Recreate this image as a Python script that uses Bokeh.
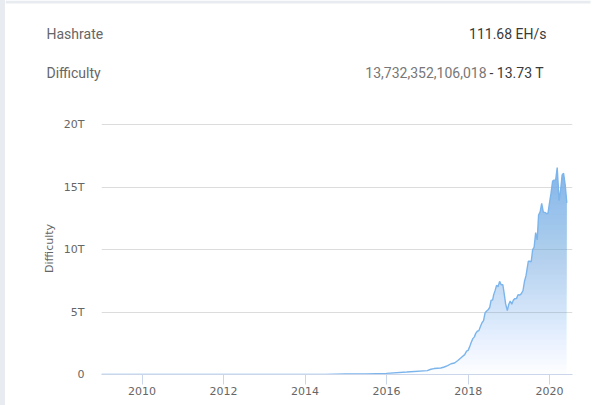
from datetime import datetime

import numpy as np
import pandas as pd
from bokeh.core.properties import value
from bokeh.embed import file_html
from bokeh.layouts import column, row
from bokeh.models import DatetimeTickFormatter, FixedTicker, Range1d, Spacer
from bokeh.plotting import figure
from bokeh.resources import INLINE

# Bitcoin network difficulty (in T = 10^12) at each retarget
dates = [
    "2009-01-03", "2010-12-31", "2011-06-30", "2012-06-30", "2012-12-31",
    "2013-06-30", "2013-12-31", "2014-06-30", "2014-12-31", "2015-06-30",
    "2015-12-31", "2016-06-30", "2016-12-31",
    "2017-02-01", "2017-03-01", "2017-04-01", "2017-05-01", "2017-06-01",
    "2017-07-01", "2017-08-01", "2017-09-01", "2017-10-01", "2017-11-01",
    "2017-12-01", "2017-12-18",
    "2018-01-01", "2018-01-15", "2018-01-30", "2018-02-12", "2018-02-26",
    "2018-03-10", "2018-03-24", "2018-04-07", "2018-04-21", "2018-05-05",
    "2018-05-19", "2018-06-02", "2018-06-16", "2018-06-29", "2018-07-13",
    "2018-07-26", "2018-08-08", "2018-08-18", "2018-08-31", "2018-09-13",
    "2018-09-26", "2018-10-10", "2018-10-24", "2018-11-08", "2018-11-17",
    "2018-12-03", "2018-12-18", "2018-12-31",
    "2019-01-13", "2019-01-27", "2019-02-10", "2019-02-24", "2019-03-10",
    "2019-03-24", "2019-04-07", "2019-04-21", "2019-05-07", "2019-05-21",
    "2019-06-04", "2019-06-24", "2019-07-07", "2019-07-20", "2019-08-02",
    "2019-08-15", "2019-08-29", "2019-09-12", "2019-09-24", "2019-10-08",
    "2019-10-22", "2019-11-06", "2019-11-20", "2019-12-04", "2019-12-17",
    "2020-01-01", "2020-01-13", "2020-01-28", "2020-02-10", "2020-02-24",
    "2020-03-09", "2020-03-26", "2020-04-08", "2020-04-22", "2020-05-05",
    "2020-05-20", "2020-06-03",
]
difficulty_t = [
    1e-12, 1.5e-8, 1.8e-6, 1.7e-6, 3.4e-6,
    1.9e-5, 0.0012, 0.0118, 0.040, 0.048,
    0.093, 0.197, 0.31,
    0.42, 0.475, 0.50, 0.52, 0.60,
    0.71, 0.86, 0.92, 1.12, 1.36,
    1.59, 1.87,
    1.93, 2.23, 2.60, 2.87, 3.01,
    3.29, 3.46, 3.51, 3.84, 4.14,
    4.31, 4.94, 5.08, 5.18, 5.36,
    5.95, 5.95, 6.39, 6.73, 7.15,
    7.02, 7.45, 7.18, 7.18, 6.65,
    5.65, 5.11, 5.62,
    5.88, 5.62, 5.95, 6.07, 6.07,
    6.38, 6.35, 6.45, 6.70, 7.46,
    7.93, 9.06, 9.06, 9.01, 9.99,
    10.18, 11.35, 10.77, 12.76, 13.01,
    13.69, 12.97, 12.97, 12.88, 12.88,
    13.79, 14.47, 15.47, 15.55, 15.55,
    16.55, 13.91, 14.72, 15.96, 16.10,
    15.14, 13.73,
]

y_ticks = [0, 5, 10, 15, 20]
y_tick_labels = ["0", "5T", "10T", "15T", "20T"]
x_tick_years = [2010, 2012, 2014, 2016, 2018, 2020]

header_names = ["Hashrate", "Difficulty"]
hashrate_text = "111.68 EH/s"
difficulty_raw = "13,732,352,106,018"
difficulty_short = "- 13.73 T"

x = pd.to_datetime(dates)
y = np.array(difficulty_t)

LINE = "#7cb5ec"
EDGE = "#e8ebf0"
AXIS_FONT = "DejaVu Sans"
HEAD_FONT = value("Roboto")

W = 587  # card width (page width minus left edge strip)

# ---- header card with the two summary rows ----
head = figure(width=W, height=105, x_range=Range1d(0, W), y_range=Range1d(105, 0),
              x_axis_location=None, y_axis_location=None,
              output_backend="svg", toolbar_location=None, min_border=0)
head.frame_align = False
head.grid.visible = False
head.outline_line_color = None
head.border_fill_color = "white"
head.background_fill_color = "white"
head.quad(left=0, right=585, top=0, bottom=3, fill_color=EDGE, line_color=None)

row_y = [33, 72]
head.text(x=[41, 41], y=row_y, text=header_names, text_font=HEAD_FONT,
          text_font_size="14px", text_color="#666666",
          text_align="left", text_baseline="alphabetic")
head.text(x=[541], y=[row_y[0]], text=[hashrate_text], text_font=HEAD_FONT,
          text_font_size="14px", text_color="#3a3a3a",
          text_align="right", text_baseline="alphabetic")
head.text(x=[481], y=[row_y[1]], text=[difficulty_raw], text_font=HEAD_FONT,
          text_font_size="14px", text_color="#777777",
          text_align="right", text_baseline="alphabetic")
head.text(x=[484], y=[row_y[1]], text=[difficulty_short], text_font=HEAD_FONT,
          text_font_size="14px", text_color="#3a3a3a",
          text_align="left", text_baseline="alphabetic")

# ---- difficulty chart ----
p = figure(
    width=W, height=300,
    x_axis_type="datetime",
    x_range=Range1d(datetime(2009, 1, 3), datetime(2020, 7, 24)),
    y_range=Range1d(0, 20.16),
    output_backend="svg", toolbar_location=None,
    min_border_left=96, min_border_right=20,
    min_border_top=17, min_border_bottom=31,
)
p.frame_align = False
p.outline_line_color = None
p.background_fill_color = "white"
p.border_fill_color = "white"

p.xgrid.grid_line_color = None
p.ygrid.grid_line_color = "#dcdcdc"
p.ygrid.ticker = FixedTicker(ticks=y_ticks)

# vertical fade under the curve: nested translucent layers whose combined
# opacity grows linearly with height
layer = 0.4
top = y.max()
n_layers = int(np.ceil(top / layer))
covered = 0.0
for k in range(n_layers):
    target = 0.9 * min((k + 1) * layer, top) / top
    a = 1 - (1 - target) / (1 - covered)
    covered = target
    p.varea(x=x, y1=np.minimum(y, k * layer), y2=y,
            fill_color=LINE, fill_alpha=a)

p.line(x, y, line_color=LINE, line_width=1.4)

ya = p.yaxis[0]
ya.ticker = FixedTicker(ticks=y_ticks)
ya.major_label_overrides = dict(zip(y_ticks, y_tick_labels))
ya.axis_line_color = None
ya.major_tick_line_color = None
ya.minor_tick_line_color = None
ya.major_tick_out = 0
ya.major_label_standoff = 17
ya.major_label_text_font = AXIS_FONT
ya.major_label_text_font_size = "11px"
ya.major_label_text_color = "#666666"
ya.axis_label = "Difficulty"
ya.axis_label_standoff = 5
ya.axis_label_text_font = AXIS_FONT
ya.axis_label_text_font_size = "11px"
ya.axis_label_text_font_style = "normal"
ya.axis_label_text_color = "#666666"

xa = p.xaxis[0]
xa.ticker = FixedTicker(ticks=[datetime(yr, 1, 1).timestamp() * 1000 for yr in x_tick_years])
xa.formatter = DatetimeTickFormatter(years="%Y", months="%Y", days="%Y")
xa.axis_line_color = "#ccd6eb"
xa.major_tick_line_color = "#ccd6eb"
xa.minor_tick_line_color = None
xa.major_tick_in = 0
xa.major_tick_out = 10
xa.major_label_standoff = 2
xa.major_label_text_font = AXIS_FONT
xa.major_label_text_font_size = "11px"
xa.major_label_text_color = "#666666"

edge = Spacer(width=5, height=405, styles={"background-color": EDGE})
page = row(edge, column(head, p, spacing=0), spacing=0)

open("out.html", "w").write(file_html(page, INLINE))
